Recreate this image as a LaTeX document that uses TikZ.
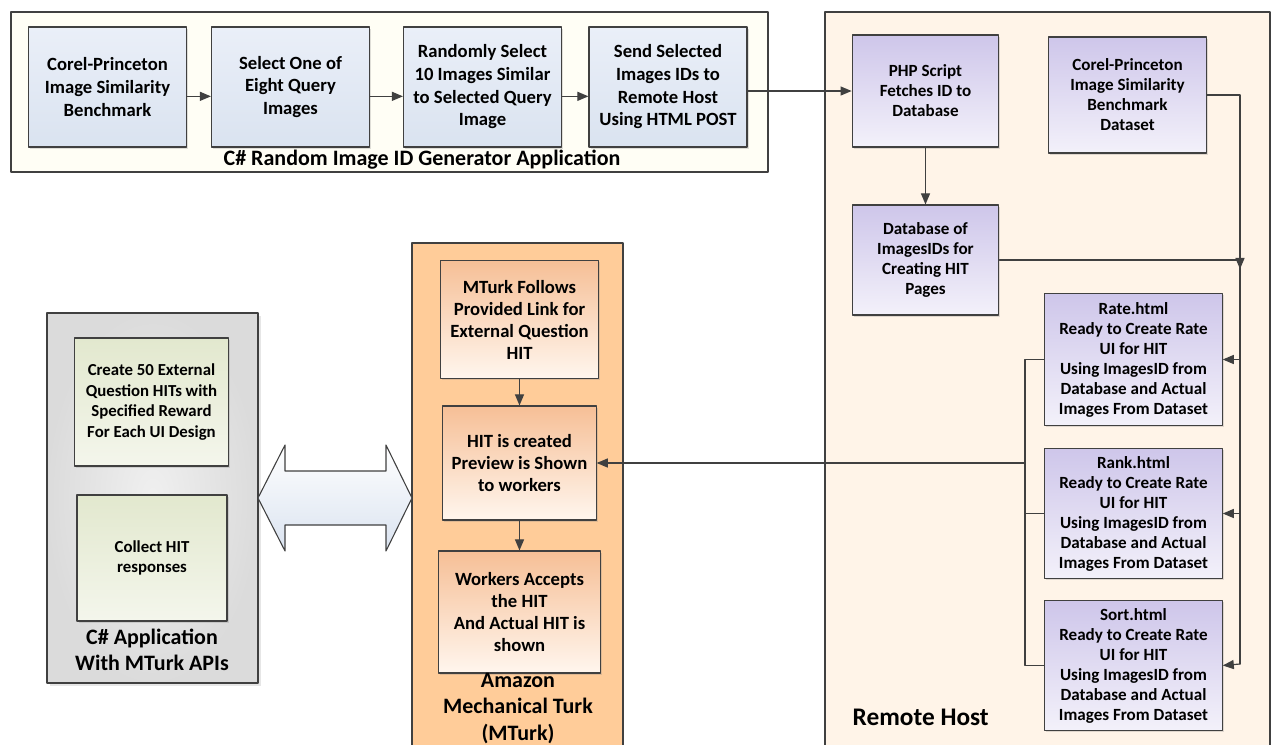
\documentclass[tikz,border=0pt]{standalone}
\usepackage{fontspec}
\setmainfont{Carlito}
\usetikzlibrary{arrows}
\usetikzlibrary{positioning}
\usetikzlibrary{shadows}
\definecolor{edgec}{HTML}{404040}
\definecolor{blueA}{HTML}{EAEFF8}
\definecolor{blueB}{HTML}{DAE3F0}
\definecolor{lilacA}{HTML}{CEC6EA}
\definecolor{lilacB}{HTML}{F3F1FA}
\definecolor{peachA}{HTML}{F6BF96}
\definecolor{peachB}{HTML}{FFF6EE}
\definecolor{oliveA}{HTML}{E2E8CE}
\definecolor{oliveB}{HTML}{F4F6EC}
\tikzset{
  box/.style={draw=edgec,line width=0.9pt,align=center,font=\bfseries,inner sep=2pt,
    drop shadow={shadow xshift=1.2pt,shadow yshift=-1.2pt,opacity=0.25}},
  genbox/.style={box,top color=blueA,bottom color=blueB,minimum width=118.5pt,minimum height=90pt,
    font=\bfseries\fontsize{14}{17}\selectfont},
  hostbox/.style={box,top color=lilacA,bottom color=lilacB,
    font=\bfseries\fontsize{12.8}{15}\selectfont},
  turkbox/.style={box,top color=peachA,bottom color=peachB,
    font=\bfseries\fontsize{14}{16.5}\selectfont},
  appbox/.style={box,top color=oliveA,bottom color=oliveB,
    font=\bfseries\fontsize{12.6}{15.5}\selectfont},
  frame/.style={draw=edgec,line width=0.9pt},
  link/.style={draw=edgec,line width=0.9pt}
}
\begin{document}
\begin{tikzpicture}[line cap=round,line join=round,>=triangle 45,x=0.75pt,y=-0.75pt]
\clip(0,0) rectangle (1275,744);
% containers
\draw [frame,fill=white!96!yellow] (11,12) rectangle (768,172);
\draw [frame,fill=orange!9] (825,12) rectangle (1270,748);
\draw [frame,fill=orange!40] (412,243) rectangle (623,748);
\draw [frame,inner color=gray!12,outer color=gray!28,drop shadow={opacity=0.2}] (47,313) rectangle (258,683);
% generator application
\node [genbox] (corel) at (107.5,87) {Corel-Princeton\\Image Similarity\\Benchmark};
\node [genbox] (pick) at (290.5,87) {Select One of\\Eight Query\\Images};
\node [genbox] (rand) at (482.5,87) {Randomly Select\\10 Images Similar\\to Selected Query\\Image};
\node [genbox] (send) at (668,87) {Send Selected\\Images IDs to\\Remote Host\\Using HTML POST};
\node [font=\bfseries\fontsize{16.5}{19}\selectfont] (genlabel) at (422,160) {C\# Random Image ID Generator Application};
% remote host
\node [hostbox,minimum width=110pt,minimum height=84pt] (php) at (925.5,91) {PHP Script\\Fetches ID to\\Database};
\node [hostbox,minimum width=118pt,minimum height=87pt] (dataset) at (1127.5,95) {Corel-Princeton\\Image Similarity\\Benchmark\\Dataset};
\node [hostbox,minimum width=110pt,minimum height=82.5pt] (db) at (925.5,260) {Database of\\ImagesIDs for\\Creating HIT\\Pages};
\node [hostbox,minimum width=133pt,minimum height=99pt] (rate) at (1133.5,359.5) {Rate.html\\Ready to Create Rate\\UI for HIT\\Using ImagesID from\\Database and Actual\\Images From Dataset};
\node [hostbox,minimum width=133pt,minimum height=98pt] (rank) at (1133.5,513.5) {Rank.html\\Ready to Create Rate\\UI for HIT\\Using ImagesID from\\Database and Actual\\Images From Dataset};
\node [hostbox,minimum width=133pt,minimum height=97pt] (sort) at (1133.5,665.5) {Sort.html\\Ready to Create Rate\\UI for HIT\\Using ImagesID from\\Database and Actual\\Images From Dataset};
\node [anchor=west,font=\bfseries\fontsize{19}{22}\selectfont] (hostlabel) at (848,717) {Remote Host};
% mechanical turk
\node [turkbox,minimum width=119pt,minimum height=89pt] (follow) at (519.5,319.5) {MTurk Follows\\Provided Link for\\External Question\\HIT};
\node [turkbox,minimum width=115pt,minimum height=85.5pt] (hit) at (519.5,463) {HIT is created\\Preview is Shown\\to workers};
\node [turkbox,minimum width=121pt,minimum height=91.5pt] (accept) at (519.5,612) {Workers Accepts\\the HIT\\And Actual HIT is\\shown};
\node [font=\bfseries\fontsize{16.5}{20}\selectfont,align=center] (turklabel) at (518,708.5) {Amazon\\Mechanical Turk\\(MTurk)};
% c# application
\node [appbox,minimum width=115pt,minimum height=96pt] (create) at (151.5,402) {Create 50 External\\Question HITs with\\Specified Reward\\For Each UI Design};
\node [appbox,minimum width=112.5pt,minimum height=94.5pt] (collect) at (152,558) {Collect HIT\\responses};
\node [font=\bfseries\fontsize{16.5}{19.5}\selectfont,align=center] (applabel) at (152,650) {C\# Application\\With MTurk APIs};
% double arrow
\draw [draw=edgec,line width=0.8pt,top color=white,bottom color=blueB] (258,498) -- (285,445) -- (285,471) -- (386,471) -- (386,445) -- (412,498) -- (386,551) -- (386,525) -- (285,525) -- (285,551) -- cycle;
% connectors
\coordinate (rbus) at (1240,664);
\coordinate (lbus) at (1025,463);
\draw [link,->] ([yshift=-7pt]corel.east) -- ([yshift=-7pt]pick.west);
\draw [link,->] ([yshift=-7pt]pick.east) -- ([yshift=-7pt]rand.west);
\draw [link,->] ([yshift=-7pt]rand.east) -- ([yshift=-7pt]send.west);
\draw [link,->] (send.east |- php.west) -- (php.west);
\draw [link,->] (php) -- (db);
\draw [link] (dataset.east) -| (rbus);
\draw [link,->] (rbus) -- (sort.east);
\draw [link,->] (rate.east -| rbus) -- (rate.east);
\draw [link,->] (rank.east -| rbus) -- (rank.east);
\draw [link,->] (db.east) -- (db.east -| rbus) -- ++(0,9);
\draw [link] (rate.west) -| (lbus) |- (sort.west);
\draw [link] (rank.west) -- (rank.west -| lbus);
\draw [link,->] (lbus) -- (hit.east);
\draw [link,->] (follow) -- (hit);
\draw [link,->] (hit) -- (accept);
\end{tikzpicture}
\end{document}
